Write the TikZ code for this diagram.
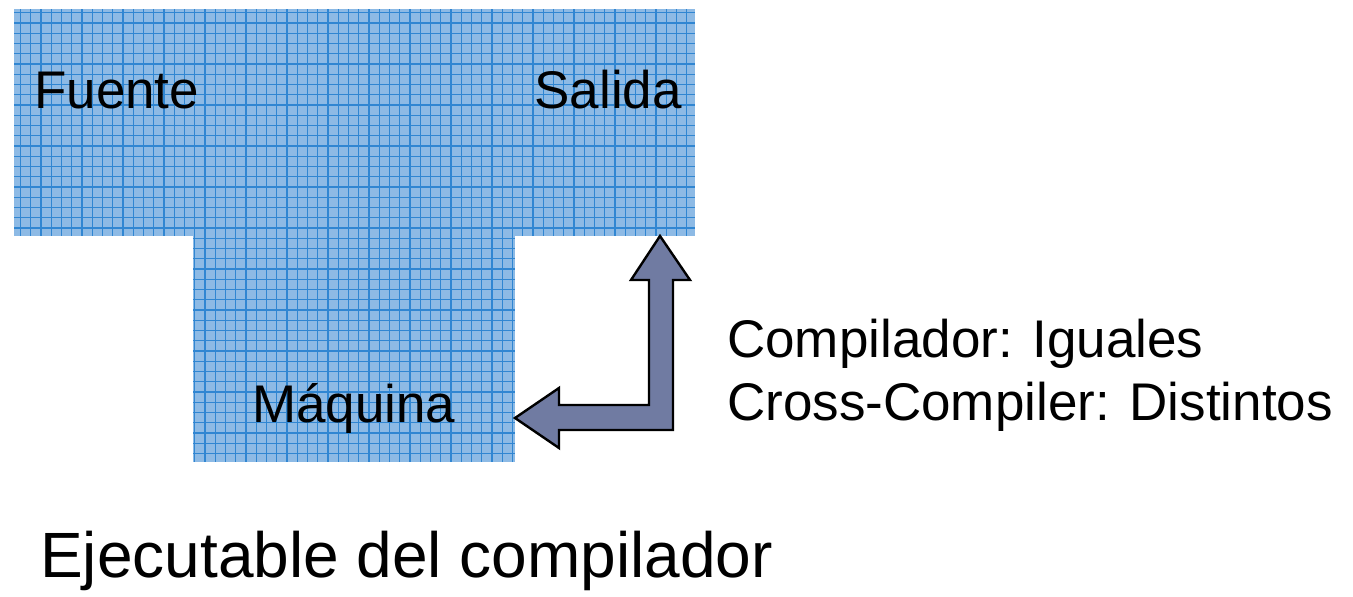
\documentclass[tikz,border=0pt]{standalone}
\usepackage{fontspec}
\setmainfont{Liberation Sans}
\definecolor{panelblue}{RGB}{141,186,229}
\definecolor{gridblue}{RGB}{48,134,210}
\definecolor{arrowslate}{RGB}{112,123,162}
\tikzset{
  panel/.style={fill=panelblue},
  panelgrid/.style={draw=gridblue, line width=1.1pt, step=10.25},
  lbl/.style={inner sep=0pt, anchor=base west, font=\fontsize{53}{63}\selectfont},
  bentarrow/.style={fill=arrowslate, draw=black, line width=2.4pt, line join=miter}
}
\begin{document}
\begin{tikzpicture}[x=1pt, y=1pt]
\useasboundingbox (0,0) rectangle (1353,597);

% upper block: fuente / salida
\fill[panel] (14,361) rectangle (695,588);
\draw[panelgrid] (14,361) grid (695,588);
% lower block: maquina
\fill[panel] (193,135) rectangle (515,361);
\draw[panelgrid] (193,135) grid (515,361);

\node[lbl] (fuente) at (34,488) {Fuente};
\node[lbl, anchor=base east] (salida) at (682,488) {Salida};
\node[lbl] (maquina) at (252,174) {Máquina};

% bent arrow from the machine up to the output
\coordinate (tip) at (660,361);
\coordinate (tail) at (515,179);
\draw[bentarrow] (tip) -- (690,317) -- (673,317) -- (673,167) -- (559,167)
   -- (559,149) -- (tail) -- (559,209) -- (559,192) -- (649,192)
   -- (649,317) -- (631,317) -- cycle;

\node[lbl] (igual) at (727,239) {Compilador: Iguales};
\node[lbl] (cross) at (727,176) {Cross-Compiler: Distintos};

\node[lbl, font=\fontsize{64}{76}\selectfont] (titulo) at (40,19) {Ejecutable del compilador};

\end{tikzpicture}
\end{document}
